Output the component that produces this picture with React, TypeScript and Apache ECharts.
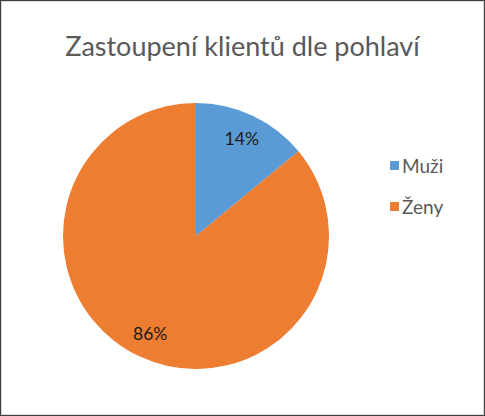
import { useEffect, useRef } from "react";
import * as echarts from "echarts";

const TITLE = "Zastoupení klientů dle pohlaví";
const CATEGORIES = ["Muži", "Ženy"];
const SHARES = [14, 86];
const COLORS = ["#5B9BD5", "#ED7D31"];
const TEXT = "#595959";

export default function App() {
  const ref = useRef<HTMLDivElement>(null);

  useEffect(() => {
    if (!ref.current) return;
    const chart = echarts.init(ref.current, undefined, { renderer: "svg" });
    const data = CATEGORIES.map((name, i) => ({ name, value: SHARES[i], itemStyle: { color: COLORS[i] } }));

    chart.setOption({
      animation: false,
      textStyle: { fontFamily: "Lato, 'Noto Sans', sans-serif" },
      title: {
        text: TITLE,
        left: "center",
        top: 27,
        textStyle: { color: TEXT, fontSize: 27, fontWeight: "normal" },
      },
      legend: {
        orient: "vertical",
        left: 385,
        top: 151,
        itemWidth: 9,
        itemHeight: 9,
        itemGap: 22,
        icon: "rect",
        data: CATEGORIES,
        textStyle: { color: TEXT, fontSize: 19, padding: [0, 0, 0, -2] },
      },
      series: [
        {
          type: "pie",
          center: [196, 236],
          radius: [0, 133],
          startAngle: 90,
          clockwise: true,
          label: { show: false },
          labelLine: { show: false },
          emphasis: { disabled: true },
          data,
        },
        {
          // průhledný prstenec jen kvůli umístění popisků
          type: "pie",
          center: [196, 236],
          radius: [76, 133],
          startAngle: 90,
          clockwise: true,
          silent: true,
          itemStyle: { color: "transparent" },
          label: {
            show: true,
            position: "inside",
            formatter: (p: { value: number }) => `${p.value}%`,
            color: "#1a1a1a",
            fontSize: 17.5,
          },
          labelLine: { show: false },
          emphasis: { disabled: true },
          data: CATEGORIES.map((name, i) => ({ name: name + " ", value: SHARES[i] })),
        },
      ],
    });

    return () => chart.dispose();
  }, []);

  return (
    <>
      <div ref={ref} style={{ position: "fixed", left: 0, top: 0, width: 485, height: 416, background: "#fff" }} />
      <div
        style={{
          position: "fixed",
          left: 0,
          top: 0,
          width: 485,
          height: 416,
          boxSizing: "border-box",
          border: "1px solid #404040",
          boxShadow: "inset 0 0 0 1px #d9d9d9",
          pointerEvents: "none",
        }}
      />
    </>
  );
}
